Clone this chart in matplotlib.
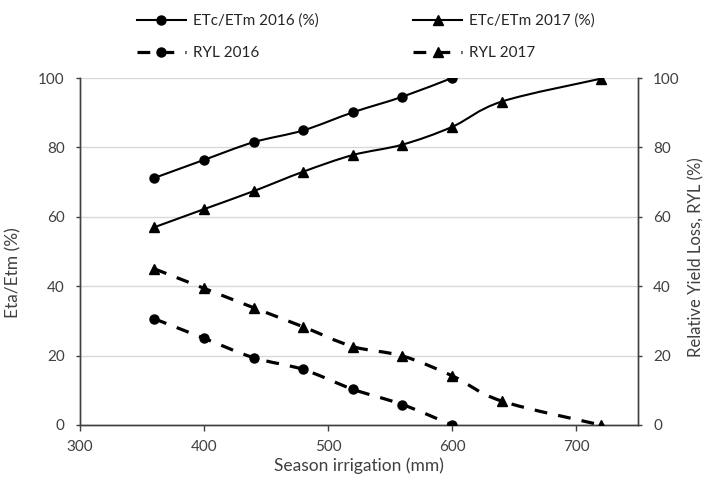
import matplotlib
matplotlib.use('Agg')
import matplotlib.pyplot as plt
from matplotlib.path import Path
from matplotlib.patches import PathPatch
from matplotlib.lines import Line2D

# Data
irrigation_2016 = [360, 400, 440, 480, 520, 560, 600]
irrigation_2017 = [360, 400, 440, 480, 520, 560, 600, 640, 720]
etc_2016 = [71.2, 76.4, 81.5, 84.9, 90.1, 94.6, 100.0]
etc_2017 = [57.0, 62.2, 67.4, 73.0, 77.8, 80.8, 85.9, 93.2, 99.8]
ryl_2016 = [30.6, 25.0, 19.4, 16.0, 10.3, 5.9, 0.0]
ryl_2017 = [45.0, 39.4, 33.8, 28.3, 22.6, 19.9, 14.2, 6.9, 0.0]

x_ticks = [300, 400, 500, 600, 700]
y_ticks = [0, 20, 40, 60, 80, 100]

plt.rcParams['font.family'] = ['Lato', 'DejaVu Sans']
TXT = '#404040'
DASH = (4, 3.5)


def smooth_path(xs, ys):
    # Excel style smoothed line: cubic bezier through every point
    pts = list(zip(xs, ys))
    verts = [pts[0]]
    codes = [Path.MOVETO]
    n = len(pts)
    for i in range(n - 1):
        p_prev = pts[i - 1] if i > 0 else pts[i]
        p0 = pts[i]
        p1 = pts[i + 1]
        p_next = pts[i + 2] if i + 2 < n else pts[i + 1]
        c1 = (p0[0] + (p1[0] - p_prev[0]) / 6, p0[1] + (p1[1] - p_prev[1]) / 6)
        c2 = (p1[0] - (p_next[0] - p0[0]) / 6, p1[1] - (p_next[1] - p0[1]) / 6)
        verts += [c1, c2, p1]
        codes += [Path.CURVE4] * 3
    return Path(verts, codes)


def draw_series(ax, xs, ys, marker, ms, lw, dashes=None):
    patch = PathPatch(smooth_path(xs, ys), facecolor='none', edgecolor='black',
                      lw=lw, capstyle='butt', zorder=3)
    if dashes:
        patch.set_linestyle((0, dashes))
    ax.add_patch(patch)
    ax.plot(xs, ys, linestyle='none', marker=marker, ms=ms, color='black', zorder=4)


fig = plt.figure(figsize=(7.09, 4.86), dpi=100)
ax = fig.add_axes([80 / 709, 1 - 425 / 486, 558 / 709, 347 / 486])
ax2 = ax.twinx()

draw_series(ax, irrigation_2016, etc_2016, 'o', 6.5, 1.5)
draw_series(ax, irrigation_2017, etc_2017, '^', 7, 1.5)
draw_series(ax2, irrigation_2016, ryl_2016, 'o', 6.5, 2.3, dashes=DASH)
draw_series(ax2, irrigation_2017, ryl_2017, '^', 7, 2.3, dashes=DASH)

for a in (ax, ax2):
    a.set_xlim(300, 750)
    a.set_ylim(0, 100)
    a.set_yticks(y_ticks)
    a.spines['top'].set_visible(False)
    for s in ('left', 'right', 'bottom'):
        a.spines[s].set_color(TXT)
        a.spines[s].set_linewidth(1.0)
    a.tick_params(axis='y', colors=TXT, labelcolor=TXT, labelsize=11,
                  length=3, width=1.0, direction='out', pad=8)

ax.set_xticks(x_ticks)
ax.tick_params(axis='x', colors=TXT, labelcolor=TXT, labelsize=11,
               length=4.5, width=1.0, direction='out', pad=6)
ax.grid(axis='y', color='#d9d9d9', lw=1.0)
ax.set_axisbelow(True)
ax.set_xlabel('Season irrigation (mm)', fontsize=12.5, color=TXT, labelpad=3)
ax.set_ylabel('Eta/Etm (%)', fontsize=12.5, color=TXT)
ax.yaxis.set_label_coords(-0.105, 0.44)
ax2.set_ylabel('Relative Yield Loss, RYL (%)', fontsize=12, color=TXT)
ax2.yaxis.set_label_coords(1.09, 0.484)

handles = [
    Line2D([], [], color='black', lw=1.5, marker='o', ms=6.5),
    Line2D([], [], color='black', lw=2.3, ls=(0, DASH), marker='o', ms=6.5),
    Line2D([], [], color='black', lw=1.5, marker='^', ms=7),
    Line2D([], [], color='black', lw=2.3, ls=(0, DASH), marker='^', ms=7),
]
labels = ['ETc/ETm 2016 (%)', 'RYL 2016', 'ETc/ETm 2017 (%)', 'RYL 2017']
fig.legend(handles, labels, loc='upper left', bbox_to_anchor=(137 / 709, 0.972), ncol=2,
           frameon=False, fontsize=11, handlelength=3.2, handletextpad=0.45,
           columnspacing=6.2, labelspacing=1.2, borderpad=0, borderaxespad=0,
           labelcolor='#262626')

fig.savefig('out.png', dpi=100)
